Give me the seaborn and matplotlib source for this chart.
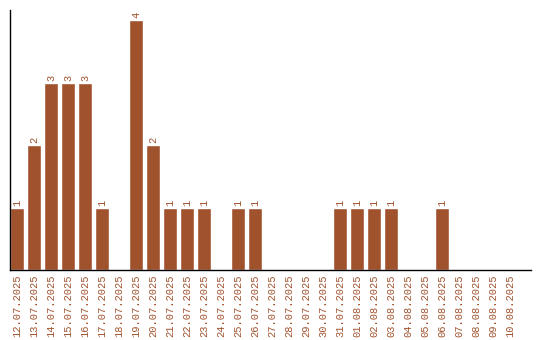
import matplotlib
matplotlib.use("Agg")
import matplotlib.pyplot as plt
import seaborn as sns
import pandas as pd

dates = ["12.07.2025", "13.07.2025", "14.07.2025", "15.07.2025", "16.07.2025",
         "17.07.2025", "18.07.2025", "19.07.2025", "20.07.2025", "21.07.2025",
         "22.07.2025", "23.07.2025", "24.07.2025", "25.07.2025", "26.07.2025",
         "27.07.2025", "28.07.2025", "29.07.2025", "30.07.2025", "31.07.2025",
         "01.08.2025", "02.08.2025", "03.08.2025", "04.08.2025", "05.08.2025",
         "06.08.2025", "07.08.2025", "08.08.2025", "09.08.2025", "10.08.2025"]
counts = [1, 2, 3, 3, 3, 1, 0, 4, 2, 1, 1, 1, 0, 1, 1,
          0, 0, 0, 0, 1, 1, 1, 1, 0, 0, 1, 0, 0, 0, 0]

color = "#A0522D"
sns.set_theme(style="white")
plt.rcParams['font.family'] = ['Liberation Mono', 'DejaVu Sans Mono']

df = pd.DataFrame({"date": dates, "count": counts})

fig = plt.figure(figsize=(5.4, 3.4), dpi=100)
ax = fig.add_axes([10/540, 1 - 270/340, 521/540, 260/340])
sns.barplot(data=df, x="date", y="count", color=color, saturation=1,
            width=0.82, ax=ax)

for i, v in enumerate(counts):
    if v > 0:
        ax.text(i, v + 0.03, str(v), rotation=90, ha="center", va="bottom",
                color=color, fontsize=7.5)

ax.set_xlim(-0.41, 30.24)
ax.set_ylim(0, 4.16)
ax.set_xlabel("")
ax.set_ylabel("")
ax.set_yticks([])
ax.tick_params(axis="x", length=0, pad=3, labelcolor=color, labelsize=7.5)
for lbl in ax.get_xticklabels():
    lbl.set_rotation(90)
for s in ["top", "right"]:
    ax.spines[s].set_visible(False)
for s in ["left", "bottom"]:
    ax.spines[s].set_color("black")
    ax.spines[s].set_linewidth(1)

fig.savefig("out.png", dpi=100)
